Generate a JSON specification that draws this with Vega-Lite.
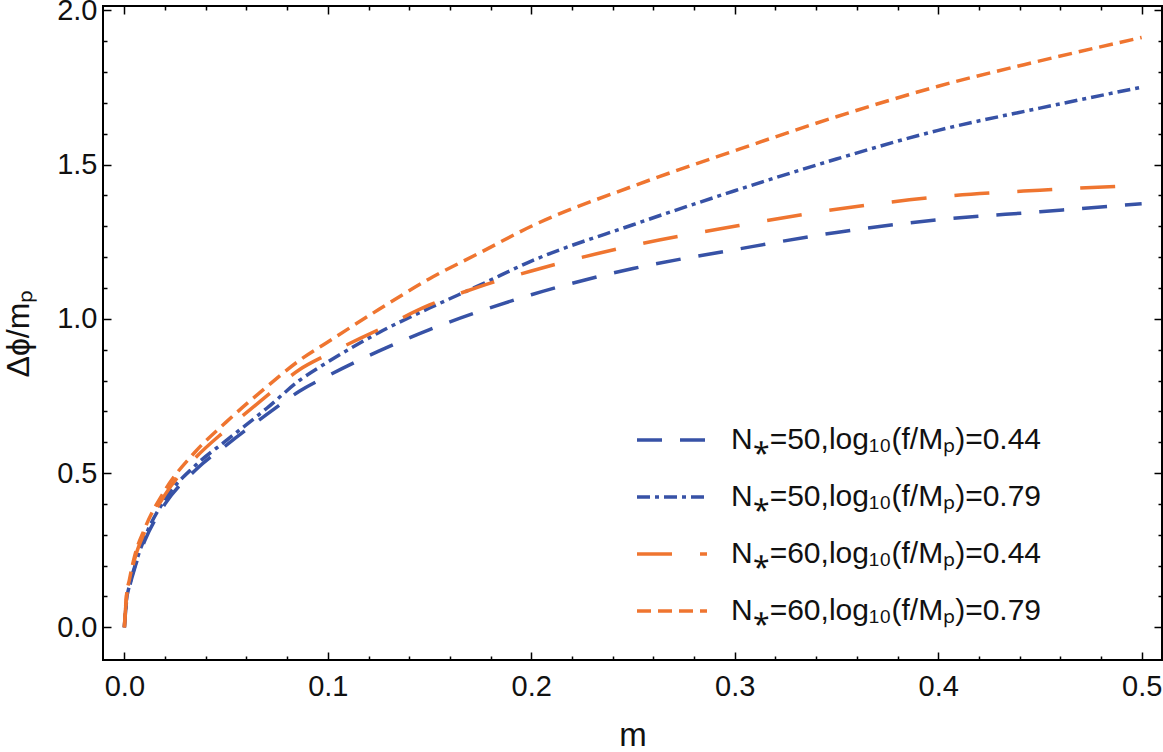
{
  "$schema": "https://vega.github.io/schema/vega-lite/v6.json",
  "width": 1059,
  "height": 654,
  "autosize": "none",
  "padding": {"left": 103, "top": 6, "right": 1, "bottom": 92},
  "background": "white",
  "config": {
    "font": "Liberation Sans",
    "view": {"stroke": "black", "strokeWidth": 2},
    "axis": {"grid": false, "domain": false, "tickColor": "black", "tickWidth": 1.5, "labelColor": "#111", "titleColor": "#111"}
  },
  "data": {
    "values": [
      {"s": "50|0.44", "m": 0, "v": 0},
      {"s": "50|0.44", "m": 0.001, "v": 0.08},
      {"s": "50|0.44", "m": 0.0025, "v": 0.13},
      {"s": "50|0.44", "m": 0.005, "v": 0.19},
      {"s": "50|0.44", "m": 0.01, "v": 0.28},
      {"s": "50|0.44", "m": 0.02, "v": 0.40},
      {"s": "50|0.44", "m": 0.035, "v": 0.51},
      {"s": "50|0.44", "m": 0.05, "v": 0.59},
      {"s": "50|0.44", "m": 0.07, "v": 0.69},
      {"s": "50|0.44", "m": 0.086, "v": 0.765},
      {"s": "50|0.44", "m": 0.1, "v": 0.815},
      {"s": "50|0.44", "m": 0.125, "v": 0.895},
      {"s": "50|0.44", "m": 0.15, "v": 0.965},
      {"s": "50|0.44", "m": 0.175, "v": 1.025},
      {"s": "50|0.44", "m": 0.2, "v": 1.078},
      {"s": "50|0.44", "m": 0.25, "v": 1.163},
      {"s": "50|0.44", "m": 0.3, "v": 1.224},
      {"s": "50|0.44", "m": 0.35, "v": 1.28},
      {"s": "50|0.44", "m": 0.4, "v": 1.321},
      {"s": "50|0.44", "m": 0.45, "v": 1.347},
      {"s": "50|0.44", "m": 0.5, "v": 1.373},
      {"s": "50|0.79", "m": 0, "v": 0},
      {"s": "50|0.79", "m": 0.001, "v": 0.085},
      {"s": "50|0.79", "m": 0.0025, "v": 0.135},
      {"s": "50|0.79", "m": 0.005, "v": 0.195},
      {"s": "50|0.79", "m": 0.01, "v": 0.29},
      {"s": "50|0.79", "m": 0.02, "v": 0.415},
      {"s": "50|0.79", "m": 0.035, "v": 0.525},
      {"s": "50|0.79", "m": 0.05, "v": 0.605},
      {"s": "50|0.79", "m": 0.07, "v": 0.71},
      {"s": "50|0.79", "m": 0.086, "v": 0.80},
      {"s": "50|0.79", "m": 0.1, "v": 0.86},
      {"s": "50|0.79", "m": 0.125, "v": 0.955},
      {"s": "50|0.79", "m": 0.15, "v": 1.035},
      {"s": "50|0.79", "m": 0.175, "v": 1.11},
      {"s": "50|0.79", "m": 0.2, "v": 1.187},
      {"s": "50|0.79", "m": 0.25, "v": 1.305},
      {"s": "50|0.79", "m": 0.3, "v": 1.415},
      {"s": "50|0.79", "m": 0.35, "v": 1.518},
      {"s": "50|0.79", "m": 0.4, "v": 1.611},
      {"s": "50|0.79", "m": 0.45, "v": 1.683},
      {"s": "50|0.79", "m": 0.5, "v": 1.751},
      {"s": "60|0.44", "m": 0, "v": 0},
      {"s": "60|0.44", "m": 0.001, "v": 0.095},
      {"s": "60|0.44", "m": 0.0025, "v": 0.15},
      {"s": "60|0.44", "m": 0.005, "v": 0.22},
      {"s": "60|0.44", "m": 0.01, "v": 0.31},
      {"s": "60|0.44", "m": 0.02, "v": 0.43},
      {"s": "60|0.44", "m": 0.035, "v": 0.55},
      {"s": "60|0.44", "m": 0.05, "v": 0.64},
      {"s": "60|0.44", "m": 0.07, "v": 0.75},
      {"s": "60|0.44", "m": 0.086, "v": 0.835},
      {"s": "60|0.44", "m": 0.1, "v": 0.885},
      {"s": "60|0.44", "m": 0.125, "v": 0.965},
      {"s": "60|0.44", "m": 0.15, "v": 1.045},
      {"s": "60|0.44", "m": 0.175, "v": 1.105},
      {"s": "60|0.44", "m": 0.2, "v": 1.155},
      {"s": "60|0.44", "m": 0.25, "v": 1.238},
      {"s": "60|0.44", "m": 0.3, "v": 1.30},
      {"s": "60|0.44", "m": 0.35, "v": 1.355},
      {"s": "60|0.44", "m": 0.4, "v": 1.395},
      {"s": "60|0.44", "m": 0.45, "v": 1.417},
      {"s": "60|0.44", "m": 0.5, "v": 1.433},
      {"s": "60|0.79", "m": 0, "v": 0},
      {"s": "60|0.79", "m": 0.001, "v": 0.10},
      {"s": "60|0.79", "m": 0.0025, "v": 0.155},
      {"s": "60|0.79", "m": 0.005, "v": 0.23},
      {"s": "60|0.79", "m": 0.01, "v": 0.32},
      {"s": "60|0.79", "m": 0.02, "v": 0.445},
      {"s": "60|0.79", "m": 0.035, "v": 0.57},
      {"s": "60|0.79", "m": 0.05, "v": 0.665},
      {"s": "60|0.79", "m": 0.07, "v": 0.78},
      {"s": "60|0.79", "m": 0.086, "v": 0.865},
      {"s": "60|0.79", "m": 0.1, "v": 0.925},
      {"s": "60|0.79", "m": 0.125, "v": 1.03},
      {"s": "60|0.79", "m": 0.15, "v": 1.13},
      {"s": "60|0.79", "m": 0.175, "v": 1.215},
      {"s": "60|0.79", "m": 0.2, "v": 1.30},
      {"s": "60|0.79", "m": 0.25, "v": 1.43},
      {"s": "60|0.79", "m": 0.3, "v": 1.545},
      {"s": "60|0.79", "m": 0.35, "v": 1.655},
      {"s": "60|0.79", "m": 0.4, "v": 1.754},
      {"s": "60|0.79", "m": 0.45, "v": 1.836},
      {"s": "60|0.79", "m": 0.5, "v": 1.912}
    ]
  },
  "resolve": {"axis": {"x": "independent", "y": "independent"}},
  "layer": [
    {
      "mark": {"type": "line", "strokeWidth": 3.5, "interpolate": "monotone", "clip": true},
      "encoding": {
        "x": {
          "field": "m", "type": "quantitative",
          "scale": {"domain": [-0.0105, 0.51], "nice": false, "zero": false},
          "axis": {
            "orient": "bottom", "ticks": false, "values": [0, 0.1, 0.2, 0.3, 0.4, 0.5], "format": ".1f",
            "labelFontSize": 29, "labelPadding": 12, "labelFlush": false,
            "title": "m", "titleFontSize": 33, "titleFontWeight": "normal", "titlePadding": 18
          }
        },
        "y": {
          "field": "v", "type": "quantitative",
          "scale": {"domain": [-0.106, 2.014], "nice": false, "zero": false},
          "axis": {
            "orient": "left", "ticks": false, "values": [0, 0.5, 1, 1.5, 2], "format": ".1f",
            "labelFontSize": 29, "labelPadding": 6, "labelFlush": false,
            "title": "Δϕ/mₚ", "titleFontSize": 32, "titleFontWeight": "normal", "titlePadding": 21
          }
        },
        "color": {
          "field": "s", "type": "nominal",
          "scale": {"domain": ["50|0.44", "50|0.79", "60|0.44", "60|0.79"], "range": ["#3752A6", "#3752A6", "#EF7530", "#EF7530"]},
          "legend": {
            "orient": "none", "legendX": 532, "legendY": 397, "title": null,
            "symbolType": "stroke", "symbolSize": 4900, "symbolStrokeWidth": 3.5,
            "labelFontSize": 30, "labelOffset": 22, "labelLimit": 0, "rowPadding": 5, "labelColor": "#111",
            "labelExpr": "'N⁎=' + slice(datum.label, 0, 2) + ',log₁₀(f/Mₚ)=' + slice(datum.label, 3)"
          }
        },
        "strokeDash": {
          "field": "s", "type": "nominal",
          "scale": {"domain": ["50|0.44", "50|0.79", "60|0.44", "60|0.79"], "range": [[25, 18], [13, 5, 4, 5], [35, 28], [14, 7]]},
          "legend": {
            "orient": "none", "legendX": 532, "legendY": 397, "title": null,
            "symbolType": "stroke", "symbolSize": 4900, "symbolStrokeWidth": 3.5,
            "labelFontSize": 30, "labelOffset": 22, "labelLimit": 0, "rowPadding": 5, "labelColor": "#111",
            "labelExpr": "'N⁎=' + slice(datum.label, 0, 2) + ',log₁₀(f/Mₚ)=' + slice(datum.label, 3)"
          }
        }
      }
    },
    {
      "mark": {"type": "point", "opacity": 0},
      "encoding": {
        "x": {
          "field": "m", "type": "quantitative",
          "scale": {"domain": [-0.0105, 0.51], "nice": false, "zero": false},
          "axis": {"orient": "bottom", "labels": false, "title": null, "tickSize": -8, "values": [0, 0.1, 0.2, 0.3, 0.4, 0.5]}
        },
        "y": {
          "field": "v", "type": "quantitative",
          "scale": {"domain": [-0.106, 2.014], "nice": false, "zero": false},
          "axis": {"orient": "left", "labels": false, "title": null, "tickSize": -8, "values": [0, 0.5, 1, 1.5, 2]}
        }
      }
    },
    {
      "mark": {"type": "point", "opacity": 0},
      "encoding": {
        "x": {
          "field": "m", "type": "quantitative",
          "scale": {"domain": [-0.0105, 0.51], "nice": false, "zero": false},
          "axis": {"orient": "bottom", "labels": false, "title": null, "tickSize": -4, "values": [0.02, 0.04, 0.06, 0.08, 0.12, 0.14, 0.16, 0.18, 0.22, 0.24, 0.26, 0.28, 0.32, 0.34, 0.36, 0.38, 0.42, 0.44, 0.46, 0.48]}
        },
        "y": {
          "field": "v", "type": "quantitative",
          "scale": {"domain": [-0.106, 2.014], "nice": false, "zero": false},
          "axis": {"orient": "left", "labels": false, "title": null, "tickSize": -4, "values": [0.1, 0.2, 0.3, 0.4, 0.6, 0.7, 0.8, 0.9, 1.1, 1.2, 1.3, 1.4, 1.6, 1.7, 1.8, 1.9]}
        }
      }
    },
    {
      "mark": {"type": "point", "opacity": 0},
      "encoding": {
        "x": {
          "field": "m", "type": "quantitative",
          "scale": {"domain": [-0.0105, 0.51], "nice": false, "zero": false},
          "axis": {"orient": "top", "labels": false, "title": null, "tickSize": -8, "values": [0, 0.1, 0.2, 0.3, 0.4, 0.5]}
        },
        "y": {
          "field": "v", "type": "quantitative",
          "scale": {"domain": [-0.106, 2.014], "nice": false, "zero": false},
          "axis": {"orient": "right", "labels": false, "title": null, "tickSize": -8, "values": [0, 0.5, 1, 1.5, 2]}
        }
      }
    },
    {
      "mark": {"type": "point", "opacity": 0},
      "encoding": {
        "x": {
          "field": "m", "type": "quantitative",
          "scale": {"domain": [-0.0105, 0.51], "nice": false, "zero": false},
          "axis": {"orient": "top", "labels": false, "title": null, "tickSize": -4, "values": [0.02, 0.04, 0.06, 0.08, 0.12, 0.14, 0.16, 0.18, 0.22, 0.24, 0.26, 0.28, 0.32, 0.34, 0.36, 0.38, 0.42, 0.44, 0.46, 0.48]}
        },
        "y": {
          "field": "v", "type": "quantitative",
          "scale": {"domain": [-0.106, 2.014], "nice": false, "zero": false},
          "axis": {"orient": "right", "labels": false, "title": null, "tickSize": -4, "values": [0.1, 0.2, 0.3, 0.4, 0.6, 0.7, 0.8, 0.9, 1.1, 1.2, 1.3, 1.4, 1.6, 1.7, 1.8, 1.9]}
        }
      }
    }
  ]
}
